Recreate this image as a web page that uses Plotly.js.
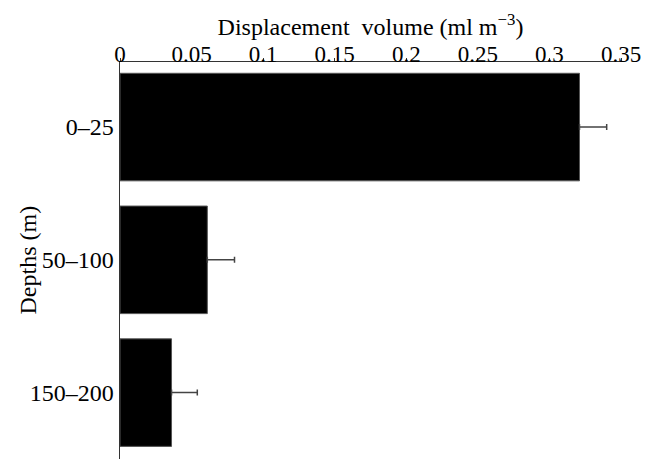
<!DOCTYPE html>
<html>
<head>
<meta charset="utf-8">
<script src="https://cdn.plot.ly/plotly-3.0.1.min.js"></script>
<style>html,body{margin:0;padding:0;background:#fff;}#chart{width:652px;height:459px;}</style>
</head>
<body>
<div id="chart"></div>
<script>
var depths = ["0\u201325", "50\u2013100", "150\u2013200"];
var volumes = [0.321, 0.061, 0.036];
var errors = [0.019, 0.019, 0.018];
var xTickVals = [0, 0.05, 0.1, 0.15, 0.2, 0.25, 0.3, 0.35];
var xTickText = ["0", "0.05", "0.1", "0.15", "0.2", "0.25", "0.3", "0.35"];

var serif = "Liberation Serif, Times New Roman, serif";

var trace = {
  type: "bar",
  orientation: "h",
  y: depths,
  x: volumes,
  marker: {color: "#000000", line: {color: "#555555", width: 1}},
  error_x: {
    type: "data",
    array: errors,
    arrayminus: [0, 0, 0],
    symmetric: false,
    color: "#444444",
    thickness: 1.5,
    width: 3
  },
  hoverinfo: "none"
};

var layout = {
  width: 652,
  height: 459,
  margin: {l: 120, r: 31, t: 62, b: 0},
  paper_bgcolor: "#ffffff",
  plot_bgcolor: "#ffffff",
  showlegend: false,
  bargap: 0.19,
  font: {family: serif, size: 24, color: "#000000"},
  xaxis: {
    side: "top",
    range: [0, 0.35],
    tickvals: xTickVals,
    ticktext: xTickText,
    showline: true,
    linecolor: "#333333",
    linewidth: 1.5,
    ticks: "outside",
    ticklen: 3,
    tickcolor: "#333333",
    ticklabelstandoff: -14,
    showgrid: false,
    zeroline: false,
    tickfont: {family: serif, size: 23, color: "#000"},
    title: {text: "Displacement  volume (ml m<sup>\u22123</sup>)", font: {family: serif, size: 24, color: "#000"}, standoff: 0}
  },
  yaxis: {
    range: [2.5, -0.49],
    showline: true,
    linecolor: "#333333",
    linewidth: 1.5,
    ticks: "",
    showgrid: false,
    zeroline: false,
    tickfont: {family: serif, size: 24, color: "#000"}
  },
  annotations: [{
    text: "Depths (m)",
    textangle: -90,
    xref: "paper", yref: "paper",
    x: (27 - 120) / 501, y: 0.5,
    xanchor: "center", yanchor: "middle",
    showarrow: false,
    font: {family: serif, size: 24, color: "#000"}
  }]
};

Plotly.newPlot("chart", [trace], layout, {staticPlot: true, displayModeBar: false});
</script>
</body>
</html>
